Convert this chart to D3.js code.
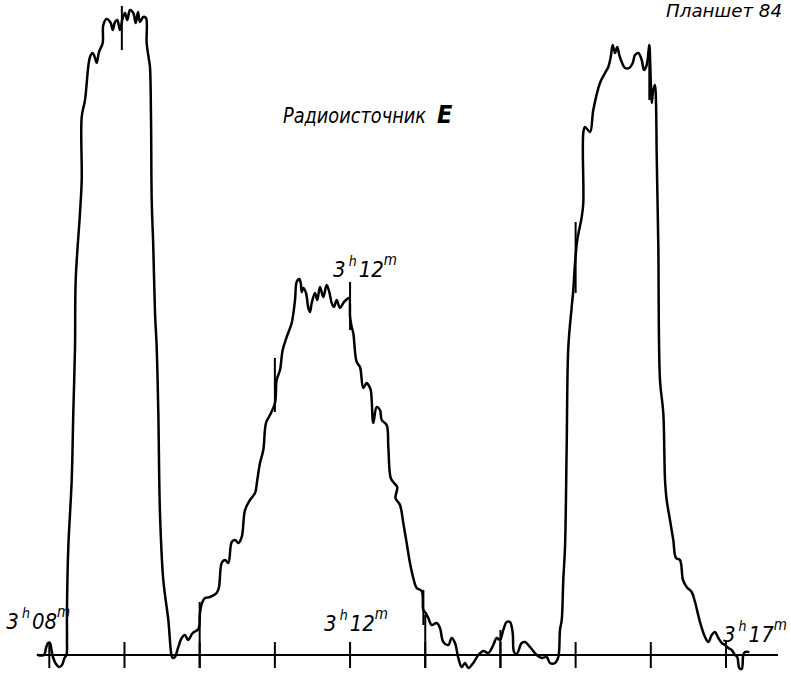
<!DOCTYPE html>
<html>
<head>
<meta charset="utf-8">
<script src="https://cdn.jsdelivr.net/npm/d3@7"></script>
<style>
  html, body { margin: 0; padding: 0; background: #fff; }
  svg { display: block; }
  text { font-family: "DejaVu Sans Condensed", "DejaVu Sans", sans-serif; font-stretch: condensed; font-style: italic; fill: #000; }
</style>
</head>
<body>
<svg id="chart" width="791" height="674"></svg>
<script>
// ---- DATA (time in minutes after 3h00m, deflection in arbitrary units) ----
const traceMinutes = [
  7.850,7.930,7.956,7.983,8.009,8.029,8.049,8.089,8.129,8.169,8.202,8.229,8.235,8.235,8.253,8.298,8.319,8.342,8.351,8.408,
  8.431,8.431,8.475,8.541,8.577,8.608,8.630,8.661,8.710,8.718,8.763,8.817,8.843,8.874,8.904,8.940,8.976,9.007,9.037,9.073,
  9.117,9.149,9.180,9.206,9.250,9.286,9.295,9.326,9.339,9.353,9.362,9.383,9.406,9.428,9.450,9.472,9.516,9.583,9.628,9.645,
  9.672,9.712,9.761,9.805,9.845,9.907,9.982,10.004,10.031,10.071,10.137,10.226,10.257,10.293,10.337,10.381,10.426,10.470,10.514,10.559,
  10.603,10.669,10.736,10.766,10.802,10.846,10.882,10.935,11.002,11.024,11.068,11.104,11.157,11.224,11.268,11.290,11.325,11.344,11.357,11.378,
  11.414,11.445,11.467,11.490,11.534,11.564,11.600,11.644,11.689,11.724,11.756,11.787,11.822,11.866,11.910,11.946,11.986,12.000,12.022,12.043,
  12.088,12.132,12.176,12.221,12.245,12.275,12.309,12.354,12.398,12.421,12.487,12.509,12.541,12.585,12.628,12.618,12.604,12.664,12.708,12.753,
  12.797,12.841,12.886,12.953,12.974,12.997,13.041,13.086,13.152,13.196,13.240,13.307,13.352,13.396,13.440,13.485,13.529,13.573,13.639,13.706,
  13.772,13.839,13.905,13.950,13.994,14.038,14.083,14.127,14.163,14.181,14.216,14.283,14.327,14.393,14.482,14.549,14.615,14.659,14.726,14.770,
  14.792,14.815,14.836,14.859,14.881,14.903,14.948,14.969,14.992,15.022,15.081,15.102,15.102,15.125,15.191,15.235,15.324,15.391,15.435,15.467,
  15.493,15.524,15.554,15.581,15.613,15.657,15.714,15.759,15.790,15.834,15.879,15.909,15.945,15.967,15.980,15.999,16.012,16.033,16.056,16.069,
  16.078,16.089,16.100,16.122,16.166,16.189,16.211,16.255,16.299,16.335,16.388,16.428,16.477,16.544,16.588,16.654,16.721,16.765,16.810,16.854,
  16.898,16.943,16.987,17.031,17.076,17.120,17.150,17.177,17.209,17.230,17.253,17.297
];
const traceValues = [
  0,0,7,12,12,5,-2,-9,-12,-10,-3,0,15,45,108,175,242,308,375,442,
  475,538,555,598,602,597,592,603,612,630,636,632,625,633,635,625,637,642,635,645,
  642,632,643,633,638,637,612,595,588,535,455,408,342,308,242,142,75,35,-1,-3,
  -2,7,17,20,15,22,26,42,52,57,58,62,68,92,95,92,113,115,112,118,
  145,155,162,175,192,205,232,240,252,275,285,305,318,332,355,373,376,372,363,367,
  362,347,343,352,362,355,368,358,370,363,352,348,355,347,352,355,357,338,328,322,
  293,288,267,272,270,265,232,248,245,235,230,208,177,172,168,163,157,150,132,112,
  92,77,67,64,45,43,37,30,32,27,13,10,17,12,-3,-12,-8,-13,-8,0,
  4,2,10,17,15,25,33,33,22,3,1,12,13,8,0,-3,-2,-8,-8,-2,
  25,35,75,108,208,308,348,365,392,415,438,452,522,528,523,545,572,582,588,598,
  610,602,608,600,593,587,587,592,600,602,595,585,590,602,610,575,552,565,570,552,
  502,455,408,275,242,175,155,135,115,97,95,75,68,63,53,33,18,13,20,23,
  17,12,10,7,5,0,-2,-13,-14,0,3,3
];
// minute ticks on the time axis
const tickMinutes = [8, 9, 10, 11, 12, 13, 14, 15, 16, 17];
// time marks drawn by the recorder on the trace: [minute, top, bottom]
const markMinutes = [8.965, 10.0, 11.0, 12.0, 12.975, 13.0, 14.0, 15.0, 15.98];
const markTops    = [649, 53, 297, 373, 65, 40, 25, 433, 610];
const markBottoms = [605, -13, 243, 325, 30, -13, -13, 362, 555];
// time labels
const labelMinutes = [8, 12, 17];
const labelHours = ["3", "3", "3"];
const labelMins = ["08", "12", "17"];
const peakLabelMinute = 12;
const titleText = "Радиоисточник";
const titleLetter = "E";
const sheetText = "Планшет 84";

// ---- SCALES ----
const svg = d3.select("#chart");
const x = d3.scaleLinear().domain([8, 17]).range([49.3, 726]);
const y = d3.scaleLinear().domain([0, 650]).range([655, 5]);
const axisDomain = [7.836, 17.691];

// baseline
svg.append("line")
  .attr("x1", x(axisDomain[0])).attr("x2", x(axisDomain[1]))
  .attr("y1", y(0)).attr("y2", y(0))
  .attr("stroke", "#000").attr("stroke-width", 2);

// ticks
svg.append("g").selectAll("line").data(tickMinutes).join("line")
  .attr("x1", d => x(d)).attr("x2", d => x(d))
  .attr("y1", y(13)).attr("y2", y(-13))
  .attr("stroke", "#000").attr("stroke-width", 2);

// time marks
svg.append("g").selectAll("line").data(markMinutes).join("line")
  .attr("x1", d => x(d)).attr("x2", d => x(d))
  .attr("y1", (d, i) => y(markTops[i])).attr("y2", (d, i) => y(markBottoms[i]))
  .attr("stroke", "#000").attr("stroke-width", 2);

// trace
const pts = traceMinutes.map((m, i) => [m, traceValues[i]]);
const line = d3.line().x(d => x(d[0])).y(d => y(d[1])).curve(d3.curveCatmullRom.alpha(0.5));
svg.append("path").attr("d", line(pts))
  .attr("fill", "none").attr("stroke", "#000").attr("stroke-width", 2.5)
  .attr("stroke-linejoin", "round").attr("stroke-linecap", "round");

// time labels
function timeLabel(x0, base, hh, mm) {
  const t = svg.append("text").attr("x", x0).attr("y", base);
  t.append("tspan").attr("font-size", 22).text(hh);
  t.append("tspan").attr("font-size", 14).attr("dx", 3).attr("dy", -11).text("h");
  t.append("tspan").attr("font-size", 22).attr("dx", 2).attr("dy", 11).text(mm);
  t.append("tspan").attr("font-size", 15).attr("dx", 0).attr("dy", -12).text("m");
}
const labelOffsets = [[-43, 629], [-26, 631], [-3, 642]];
labelMinutes.forEach((m, i) => timeLabel(x(m) + labelOffsets[i][0], labelOffsets[i][1], labelHours[i], labelMins[i]));
timeLabel(x(peakLabelMinute) - 17, 277, labelHours[1], labelMins[1]);

// title (one text element)
const title = svg.append("text").attr("x", 283).attr("y", 123);
title.append("tspan").attr("font-size", 21).attr("textLength", 143)
  .attr("lengthAdjust", "spacingAndGlyphs").text(titleText);
title.append("tspan").attr("dx", 11).attr("font-size", 25).attr("font-weight", "bold").text(titleLetter);

// sheet label
svg.append("text").attr("x", 666).attr("y", 17).attr("font-size", 18)
  .attr("textLength", 116).attr("lengthAdjust", "spacingAndGlyphs").text(sheetText);
</script>
</body>
</html>
